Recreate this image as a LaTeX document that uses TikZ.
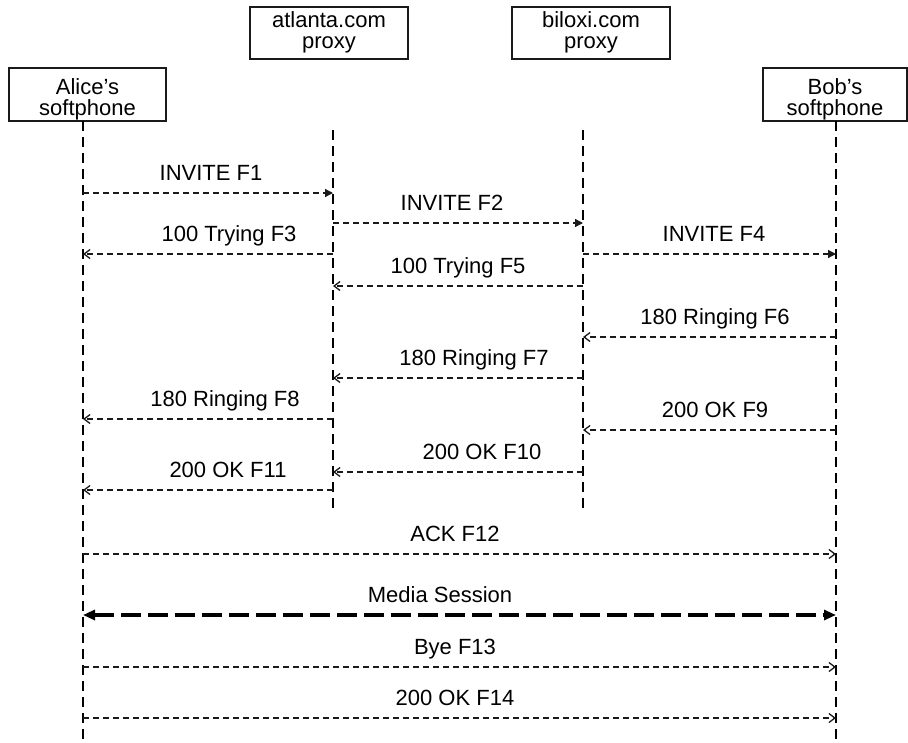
\documentclass[tikz,border=0pt]{standalone}
\usepackage{fontspec}
\setmainfont{Liberation Sans}
\usetikzlibrary{arrows.meta}
\definecolor{ink}{HTML}{1A1A1A}
\tikzset{
  every node/.style={font=\fontsize{22}{21.5}\selectfont, text=black},
  partybox/.style={draw=ink, line width=1.2pt, fill=white, inner sep=0pt},
  boxtext/.style={anchor=base, inner sep=0pt},
  lifeline/.style={draw=black, line width=2.8pt, dash pattern=on 10pt off 6pt},
  msgline/.style={draw=ink, line width=1.3pt, dash pattern=on 6pt off 4pt},
  req/.style={msgline, -{Triangle[length=8pt,width=8pt]}},
  rsp/.style={msgline, -{Straight Barb[length=6pt,width=9pt,line width=1.3pt]}},
  media/.style={draw=black, line width=4pt, dash pattern=on 20pt off 7pt,
    {Triangle[length=12pt,width=10pt]}-{Triangle[length=12pt,width=10pt]}},
  lbl/.style={anchor=base, inner sep=0pt}
}
\newcommand\sipmsg[6]{%
  \coordinate (my) at (0,#4);
  \draw[#1] (#2 |- my) -- (#3 |- my);
  \node[lbl] at (#6,#4-13) {#5};
}
\begin{document}
\begin{tikzpicture}[x=1pt,y=-1pt]
\useasboundingbox (0,0) rectangle (908,742);
% party boxes
\node[partybox, minimum width=157pt, minimum height=53pt] (alice) at (87.5,94.5) {};
\node[partybox, minimum width=158pt, minimum height=52pt] (atl) at (329,33) {};
\node[partybox, minimum width=158pt, minimum height=52pt] (bil) at (591,33) {};
\node[partybox, minimum width=144pt, minimum height=53pt] (bob) at (835,94.5) {};
\node[boxtext] at ([yshift=-27pt]alice.north) {Alice’s};
\node[boxtext] at ([yshift=-48pt]alice.north) {softphone};
\node[boxtext] at ([yshift=-21pt]atl.north) {atlanta.com};
\node[boxtext] at ([yshift=-42pt]atl.north) {proxy};
\node[boxtext] at ([yshift=-21pt]bil.north) {biloxi.com};
\node[boxtext] at ([yshift=-42pt]bil.north) {proxy};
\node[boxtext] at ([yshift=-27pt]bob.north) {Bob’s};
\node[boxtext] at ([yshift=-48pt]bob.north) {softphone};
% lifelines
\coordinate (A) at (83,121);   \coordinate (Ae) at (83,742);
\coordinate (P1) at (333,130); \coordinate (P1e) at (333,512);
\coordinate (P2) at (583,130); \coordinate (P2e) at (583,512);
\coordinate (B) at (836,121);  \coordinate (Be) at (836,742);
\draw[lifeline] (A) -- (Ae);
\draw[lifeline] (P1) -- (P1e);
\draw[lifeline] (P2) -- (P2e);
\draw[lifeline] (B) -- (Be);
% messages
\sipmsg{req}{A}{P1}{193}{INVITE F1}{211}
\sipmsg{req}{P1}{P2}{223}{INVITE F2}{452}
\sipmsg{rsp}{P1}{A}{254}{100 Trying F3}{229}
\sipmsg{req}{P2}{B}{254}{INVITE F4}{714}
\sipmsg{rsp}{P2}{P1}{286}{100 Trying F5}{458}
\sipmsg{rsp}{B}{P2}{337}{180 Ringing F6}{715}
\sipmsg{rsp}{P2}{P1}{378}{180 Ringing F7}{474}
\sipmsg{rsp}{P1}{A}{419}{180 Ringing F8}{225}
\sipmsg{rsp}{B}{P2}{430}{200 OK F9}{715}
\sipmsg{rsp}{P2}{P1}{472}{200 OK F10}{482}
\sipmsg{rsp}{P1}{A}{490}{200 OK F11}{228}
\sipmsg{rsp}{A}{B}{554}{ACK F12}{455}
\sipmsg{media}{A}{B}{615}{Media Session}{440}
\sipmsg{rsp}{A}{B}{667}{Bye F13}{455}
\sipmsg{rsp}{A}{B}{718}{200 OK F14}{455}
\end{tikzpicture}
\end{document}
